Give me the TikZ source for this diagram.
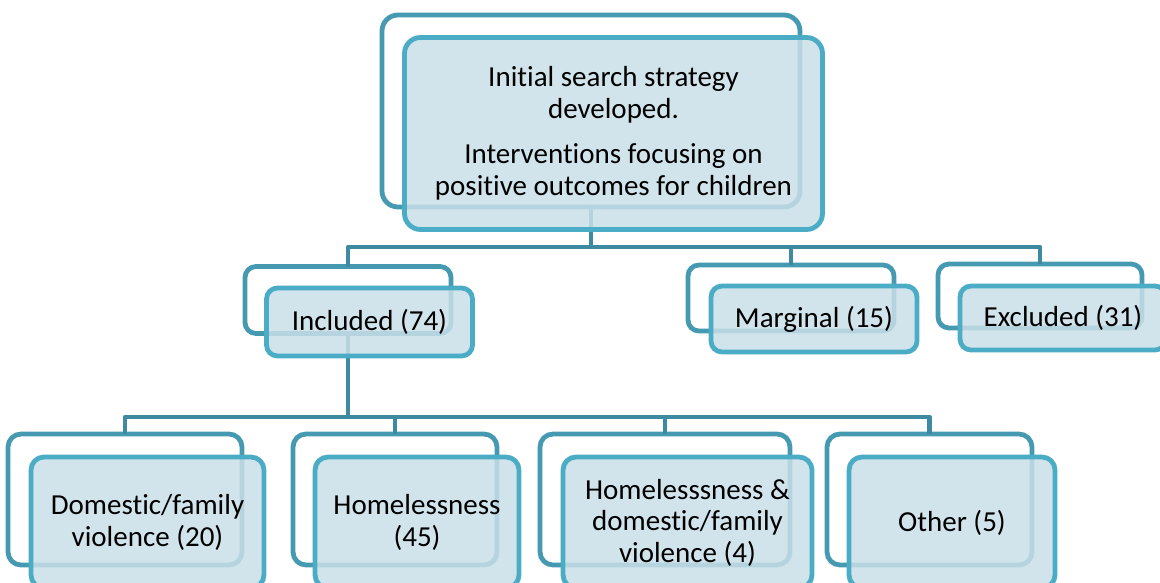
\documentclass[tikz,border=0pt]{standalone}
\usepackage{fontspec}
\setmainfont[Ligatures=NoCommon]{Carlito}
\definecolor{connc}{HTML}{3E8BA1}
\definecolor{backc}{HTML}{4599B1}
\definecolor{frontc}{HTML}{4BACC6}
\definecolor{fillc}{HTML}{CADFE8}
\begin{document}
\begin{tikzpicture}[x=1pt,y=-1pt,
  backbox/.style={draw=backc, line width=4.8pt, fill=white, rounded corners=11pt, inner sep=0pt, outer sep=0pt},
  frontbox/.style={draw=frontc, line width=4.8pt, fill=fillc, fill opacity=0.85, text opacity=1, draw opacity=1, rounded corners=11pt, inner sep=0pt, outer sep=0pt, align=center, font=\fontsize{29}{31.5}\selectfont},
  conn/.style={draw=connc, line width=4.8pt, line join=round}]
\useasboundingbox (0,0) rectangle (1160,583);
\clip (0,0) rectangle (1160,583);
\coordinate (bus1) at (0,247);
\coordinate (bus2) at (0,417);
% back boxes
\node[backbox, rounded corners=16pt, minimum width=418pt, minimum height=192pt] (topb) at (591,111) {};
\node[backbox, minimum width=206pt, minimum height=67pt] (incb) at (348,300) {};
\node[backbox, minimum width=206pt, minimum height=66pt] (marb) at (791,298) {};
\node[backbox, minimum width=204pt, minimum height=64pt] (excb) at (1040,296) {};
\node[backbox, rounded corners=13pt, minimum width=234pt, minimum height=131pt] (domb) at (125,499.5) {};
\node[backbox, rounded corners=13pt, minimum width=204pt, minimum height=131pt] (homb) at (395,499.5) {};
\node[backbox, rounded corners=13pt, minimum width=250pt, minimum height=131pt] (hdvb) at (665,499.5) {};
\node[backbox, rounded corners=13pt, minimum width=205pt, minimum height=131pt] (othb) at (929.5,499.5) {};
% connectors
\draw[conn] (topb.south) -- (topb.south |- bus1);
\draw[conn] (incb.north) |- (topb.south |- bus1) -| (excb.north);
\draw[conn] (marb.north) -- (marb.north |- bus1);
\draw[conn] (incb.south) -- (incb.south |- bus2);
\draw[conn] (domb.north) |- (incb.south |- bus2) -| (othb.north);
\draw[conn] (homb.north) -- (homb.north |- bus2);
\draw[conn] (hdvb.north) -- (hdvb.north |- bus2);
% front boxes
\node[frontbox, rounded corners=16pt, minimum width=418pt, minimum height=192pt] (top) at (613.5,133.5) {Initial search strategy\\developed.\\[14pt]Interventions focusing on\\positive outcomes for children};
\node[frontbox, minimum width=206pt, minimum height=68pt] (inc) at (369.5,322) {Included (74)};
\node[frontbox, minimum width=206pt, minimum height=66pt] (mar) at (814,319) {Marginal (15)};
\node[frontbox, minimum width=206pt, minimum height=64pt] (exc) at (1063,318) {Excluded (31)};
\node[frontbox, rounded corners=13pt, minimum width=233pt, minimum height=131pt] (dom) at (147.5,522.5) {Domestic/family\\violence (20)};
\node[frontbox, rounded corners=13pt, minimum width=204pt, minimum height=131pt] (hom) at (417,522.5) {Homelessness\\(45)};
\node[frontbox, rounded corners=13pt, minimum width=249pt, minimum height=131pt] (hdv) at (687.5,522.5) {Homelesssness \&\\domestic/family\\violence (4)};
\node[frontbox, rounded corners=13pt, minimum width=206pt, minimum height=131pt] (oth) at (952,522.5) {Other (5)};
\end{tikzpicture}
\end{document}
